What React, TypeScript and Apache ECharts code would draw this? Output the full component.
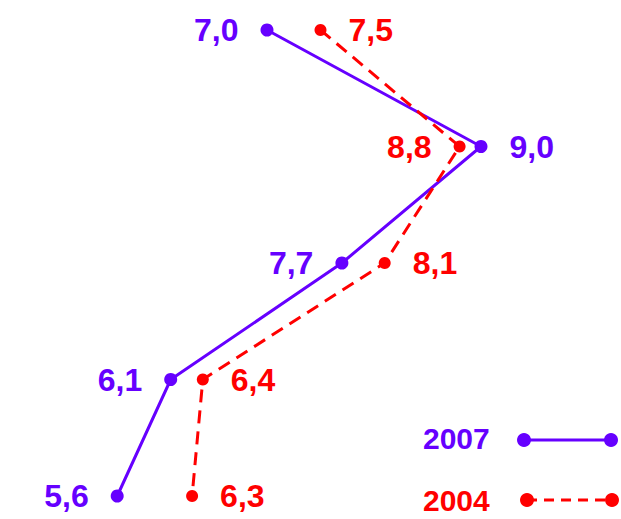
import React, { useEffect, useRef } from "react";
import * as echarts from "echarts";

const categories = ["A", "B", "C", "D", "E"];
const series2007 = [7.0, 9.0, 7.7, 6.1, 5.6];
const series2004 = [7.5, 8.8, 8.1, 6.4, 6.3];
const seriesNames = ["2007", "2004"];

const PURPLE = "#6600ff";
const RED = "#ff0000";
const FONT = "'Liberation Sans', Arial, sans-serif";

const labelSide2007 = ["left", "right", "left", "left", "left"];
const labelSide2004 = ["right", "left", "right", "right", "right"];

const fmt = (v: number) => v.toFixed(1).replace(".", ",");

export default function App() {
  const ref = useRef<HTMLDivElement>(null);
  useEffect(() => {
    if (!ref.current) return;
    const chart = echarts.init(ref.current, null, { renderer: "svg" });
    const mk = (vals: number[], sides: string[], color: string) =>
      vals.map((v, i) => ({
        value: [v, categories[i]],
        label: {
          show: true,
          position: sides[i],
          distance: 22,
          formatter: () => fmt(v),
          color,
          fontSize: 32,
          fontWeight: "bold",
          fontFamily: FONT,
        },
      }));
    chart.setOption({
      animation: false,
      backgroundColor: "#ffffff",
      grid: { left: 53, right: 33, top: 30, bottom: 23 },
      xAxis: { type: "value", min: 5, max: 10, show: false },
      yAxis: {
        type: "category",
        data: categories,
        inverse: true,
        boundaryGap: false,
        show: false,
      },
      series: [
        {
          name: seriesNames[0],
          type: "line",
          data: mk(series2007, labelSide2007, PURPLE),
          symbol: "circle",
          symbolSize: 13,
          itemStyle: { color: PURPLE },
          lineStyle: { color: PURPLE, width: 3 },
        },
        {
          name: seriesNames[1],
          type: "line",
          data: mk(series2004, labelSide2004, RED),
          symbol: "circle",
          symbolSize: 12,
          itemStyle: { color: RED },
          lineStyle: { color: RED, width: 3, type: [13, 8] },
        },
      ],
      graphic: [
        {
          type: "text",
          left: 423,
          top: 440 - 17,
          style: {
            text: seriesNames[0],
            fill: PURPLE,
            font: `bold 30px ${FONT}`,
          },
        },
        {
          type: "line",
          shape: { x1: 524, y1: 440, x2: 611, y2: 440 },
          style: { stroke: PURPLE, lineWidth: 3 },
        },
        { type: "circle", shape: { cx: 524, cy: 440, r: 7 }, style: { fill: PURPLE } },
        { type: "circle", shape: { cx: 611, cy: 440, r: 7 }, style: { fill: PURPLE } },
        {
          type: "text",
          left: 423,
          top: 502 - 17,
          style: {
            text: seriesNames[1],
            fill: RED,
            font: `bold 30px ${FONT}`,
          },
        },
        {
          type: "line",
          shape: { x1: 527, y1: 500, x2: 612, y2: 500 },
          style: { stroke: RED, lineWidth: 3, lineDash: [10, 7] },
        },
        { type: "circle", shape: { cx: 527, cy: 500, r: 7 }, style: { fill: RED } },
        { type: "circle", shape: { cx: 612, cy: 500, r: 7 }, style: { fill: RED } },
      ],
    });
    return () => chart.dispose();
  }, []);
  return (
    <div
      ref={ref}
      style={{ position: "fixed", left: 0, top: 0, width: 621, height: 519 }}
    />
  );
}
